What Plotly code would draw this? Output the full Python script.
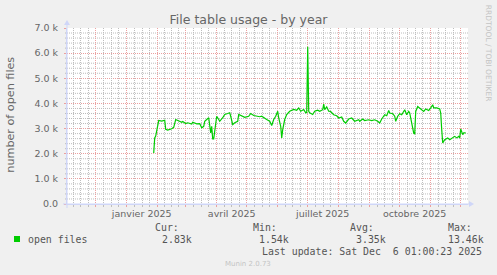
import plotly.graph_objects as go
import pandas as pd

# ---------------- data ----------------
dates = [
    "2025-01-28", "2025-01-29", "2025-01-30", "2025-02-02", "2025-02-05", "2025-02-08",
    "2025-02-09", "2025-02-11", "2025-02-15", "2025-02-17", "2025-02-19", "2025-02-21",
    "2025-02-25", "2025-02-26", "2025-03-01", "2025-03-03", "2025-03-07", "2025-03-08",
    "2025-03-12", "2025-03-15", "2025-03-17", "2025-03-19", "2025-03-20", "2025-03-24",
    "2025-03-25", "2025-03-26", "2025-03-27", "2025-03-28", "2025-03-29", "2025-04-01",
    "2025-04-03", "2025-04-04", "2025-04-07", "2025-04-09", "2025-04-12", "2025-04-14",
    "2025-04-15", "2025-04-17", "2025-04-19", "2025-04-22", "2025-04-23", "2025-04-26",
    "2025-04-29", "2025-05-03", "2025-05-05", "2025-05-08", "2025-05-11", "2025-05-14",
    "2025-05-16", "2025-05-19", "2025-05-21", "2025-05-24", "2025-05-26", "2025-05-28",
    "2025-05-30", "2025-06-01", "2025-06-02", "2025-06-04", "2025-06-05", "2025-06-06",
    "2025-06-08", "2025-06-10", "2025-06-13", "2025-06-17", "2025-06-20", "2025-06-22",
    "2025-06-24", "2025-06-27", "2025-06-29", "2025-06-30", "2025-07-01", "2025-07-02",
    "2025-07-03", "2025-07-06", "2025-07-08", "2025-07-11", "2025-07-13", "2025-07-16",
    "2025-07-17", "2025-07-18", "2025-07-20", "2025-07-22", "2025-07-24", "2025-07-27",
    "2025-07-30", "2025-08-01", "2025-08-04", "2025-08-06", "2025-08-08", "2025-08-11",
    "2025-08-14", "2025-08-17", "2025-08-21", "2025-08-22", "2025-08-25", "2025-08-27",
    "2025-08-31", "2025-09-03", "2025-09-06", "2025-09-09", "2025-09-11", "2025-09-13",
    "2025-09-16", "2025-09-18", "2025-09-20", "2025-09-21", "2025-09-24", "2025-09-26",
    "2025-09-27", "2025-09-29", "2025-10-01", "2025-10-03", "2025-10-05", "2025-10-06",
    "2025-10-08", "2025-10-10", "2025-10-11", "2025-10-13", "2025-10-15", "2025-10-16",
    "2025-10-17", "2025-10-19", "2025-10-21", "2025-10-23", "2025-10-25", "2025-10-27",
    "2025-10-30", "2025-11-01", "2025-11-03", "2025-11-04", "2025-11-07", "2025-11-10",
    "2025-11-11", "2025-11-12", "2025-11-13", "2025-11-15", "2025-11-18", "2025-11-20",
    "2025-11-23", "2025-11-25", "2025-11-27", "2025-11-29", "2025-11-30", "2025-12-01",
    "2025-12-03", "2025-12-04", "2025-12-06",
]
open_files = [
    2030, 2630, 2700, 3320, 3300, 3330,
    2970, 2940, 2990, 3050, 3360, 3320,
    3250, 3280, 3200, 3230, 3180, 3250,
    3190, 3200, 3030, 3090, 3290, 3430,
    3160, 2830, 3090, 2590, 2590, 3490,
    3360, 3290, 3430, 3560, 3600, 3630,
    3490, 3160, 3230, 3290, 3560, 3490,
    3450, 3490, 3600, 3520, 3490, 3470,
    3490, 3390, 3360, 3290, 3120, 3360,
    3490, 3690, 3420, 3090, 2630, 2960,
    3360, 3560, 3690, 3760, 3730, 3820,
    3690, 3760, 3630, 3640, 6250, 3690,
    3630, 3560, 3690, 3730, 3690, 3750,
    3970, 3750, 3860, 3690, 3680, 3550,
    3510, 3420, 3460, 3290, 3220, 3380,
    3420, 3290, 3350, 3290, 3380, 3320,
    3350, 3320, 3350, 3290, 3220, 3380,
    3550, 3510, 3720, 3620, 3590, 3490,
    3290, 3490, 3590, 3550, 3680, 3750,
    3550, 3680, 3620, 3190, 2820, 2780,
    3680, 3880, 3810, 3720, 3680, 3780,
    3720, 3820, 3950, 3820, 3820, 3780,
    3620, 2960, 2430, 2560, 2630, 2560,
    2630, 2690, 2630, 2690, 2630, 2980,
    2760, 2830, 2830,
]

series_name = "open files"
label_dates = ["2025-01-16", "2025-04-16", "2025-07-16", "2025-10-16"]
label_texts = ["janvier 2025", "avril 2025", "juillet 2025", "octobre 2025"]
y_tick_raw = ["0", "1000", "2000", "3000", "4000", "5000", "6000", "7000"]
y_tick_text = ["0.0", "1.0 k", "2.0 k", "3.0 k", "4.0 k", "5.0 k", "6.0 k", "7.0 k"]
stat_labels = ["Cur:", "Min:", "Avg:", "Max:"]
stat_values = ["2.83k", "1.54k", "3.35k", "13.46k"]
last_update = "Last update: Sat Dec  6 01:00:23 2025"
title_text = "File table usage - by year"
y_title = "number of open files"
watermark = "Munin 2.0.73"
side_text = "RRDTOOL / TOBI OETIKER"

# ---------------- geometry / style ----------------
W, H = 497, 275
L, R, T, B = 67, 468, 28, 204
FONT = "DejaVu Sans"
MONO = "DejaVu Sans Mono"
FONTCOL = "#666666"
AXISCOL = "#CFD6F8"
MGRID = "#EBA0A0"
GRID = "#BDBDBD"
x_range = ["2024-11-02 07:00", "2025-12-08 07:00"]
y_range = [0, 7000]


def px(xp):
    return (xp - L) / (R - L)


def py(yp):
    return (B - yp) / (B - T)


month_starts = pd.date_range("2024-11-01", "2025-12-01", freq="MS")
minor_x = []
for d in month_starts:
    n = d.days_in_month
    for k in (1, 2, 3):
        minor_x.append((d + pd.Timedelta(days=k * n / 4)).strftime("%Y-%m-%d %H:%M"))
minor_y = [v for v in range(200, 7000, 200) if v % 1000]

fig = go.Figure()
# invisible carrier trace for the minor-grid x axis
fig.add_trace(go.Scatter(
    x=x_range, y=[None, None], xaxis="x3", yaxis="y",
    mode="lines", showlegend=False, hoverinfo="skip",
))
# invisible carrier trace for the month label axis
fig.add_trace(go.Scatter(
    x=label_dates, y=[None] * len(label_dates), xaxis="x2", yaxis="y",
    mode="lines", showlegend=False, hoverinfo="skip",
))
fig.add_trace(go.Scatter(
    x=dates, y=open_files, mode="lines", name=series_name,
    line=dict(color="#00CC00", width=1.2), showlegend=False,
))

grid_common = dict(griddash="1px,1px", gridwidth=1, zeroline=False, fixedrange=True)

fig.update_layout(
    width=W, height=H,
    margin=dict(l=L, r=W - R, t=T, b=H - B),
    paper_bgcolor="#F0F0F0", plot_bgcolor="#FFFFFF",
    font=dict(family=FONT, color=FONTCOL, size=9.5),
    title=dict(text=title_text, x=248.5 / W, xref="container", xanchor="center",
               y=1 - 20 / H, yref="container", yanchor="middle",
               font=dict(family=FONT, size=12.5, color=FONTCOL)),
    xaxis=dict(
        range=x_range, type="date",
        tickmode="linear", tick0="2024-12-01", dtick="M1", showticklabels=False,
        showgrid=True, gridcolor=MGRID,
        ticks="outside", ticklen=2, tickcolor=MGRID,
        showline=True, linecolor=AXISCOL, linewidth=1, **grid_common,
    ),
    xaxis2=dict(
        range=x_range, type="date", overlaying="x", anchor="y", side="bottom",
        tickmode="array", tickvals=label_dates, ticktext=label_texts,
        showgrid=False, ticks="", showline=False, zeroline=False, fixedrange=True,
        ticklabelstandoff=2,
        tickfont=dict(family=FONT, size=9.5, color=FONTCOL),
    ),
    xaxis3=dict(
        range=x_range, type="date", overlaying="x", anchor="y", side="bottom",
        tickmode="array", tickvals=minor_x, showticklabels=False,
        showgrid=True, gridcolor=GRID, ticks="outside", ticklen=2, tickcolor=GRID,
        showline=False, **grid_common,
    ),
    yaxis=dict(
        range=y_range, tickmode="linear", tick0=0, dtick=1000, tickformat="d",
        labelalias=dict(zip(y_tick_raw, y_tick_text)),
        showgrid=True, gridcolor=MGRID,
        ticks="outside", ticklen=2, tickcolor=MGRID,
        showline=True, linecolor=AXISCOL, linewidth=1,
        ticklabelstandoff=4,
        tickfont=dict(family=FONT, size=9.5, color=FONTCOL), **grid_common,
    ),
)

ann = []
# y axis title
ann.append(dict(text=y_title, x=px(11), y=py(114.7), xref="paper", yref="paper",
                textangle=-90, showarrow=False, xanchor="center", yanchor="middle",
                font=dict(family=FONT, size=11.2, color=FONTCOL)))
# side watermark
ann.append(dict(text=side_text, x=px(488.5), y=py(53.3), xref="paper", yref="paper",
                textangle=90, showarrow=False, xanchor="center", yanchor="middle",
                font=dict(family=FONT, size=7.5, color="#C4C4C4")))
# munin watermark
ann.append(dict(text=watermark, x=px(248), y=py(264), xref="paper", yref="paper",
                showarrow=False, xanchor="center", yanchor="middle",
                font=dict(family=FONT, size=7, color="#C4C4C4")))
# legend
mono = dict(family=MONO, size=9.9, color="#555555")
ann.append(dict(text=series_name, x=px(26.5), y=py(239.3), xref="paper", yref="paper",
                showarrow=False, xanchor="left", yanchor="middle", borderpad=0, font=mono))
head_x = [154.3, 251.7, 349.3, 446.7]
val_x = [160.7, 258.3, 355.0, 447.3]
for hx, vx, lab, val in zip(head_x, val_x, stat_labels, stat_values):
    ann.append(dict(text=lab, x=px(hx), y=py(227.7), xref="paper", yref="paper",
                    showarrow=False, xanchor="left", yanchor="middle", borderpad=0, font=mono))
    ann.append(dict(text=val, x=px(vx), y=py(239.3), xref="paper", yref="paper",
                    showarrow=False, xanchor="left", yanchor="middle", borderpad=0, font=mono))
ann.append(dict(text=last_update.replace(" ", "&nbsp;"), x=px(482.7), y=py(251), xref="paper",
                yref="paper", showarrow=False, xanchor="right", yanchor="middle",
                borderpad=0, font=mono))
fig.update_layout(annotations=ann)

shapes = []
# minor horizontal grid (dotted grey), below the data
for v in minor_y:
    shapes.append(dict(type="line", xref="paper", yref="y", x0=0, x1=1, y0=v, y1=v,
                       layer="below", line=dict(color=GRID, width=1, dash="1px,1px")))
    shapes.append(dict(type="line", xref="paper", yref="y", x0=px(65), x1=0, y0=v, y1=v,
                       layer="below", line=dict(color=GRID, width=1)))
shapes += [
    # legend colour box
    dict(type="rect", xref="paper", yref="paper", x0=px(14), x1=px(20), y0=py(242), y1=py(236),
         fillcolor="#00CC00", line=dict(width=0)),
    # axis extensions and arrows
    dict(type="line", xref="paper", yref="paper", x0=px(63), x1=px(470), y0=py(204), y1=py(204),
         line=dict(color=AXISCOL, width=1)),
    dict(type="path", xref="paper", yref="paper",
         path=f"M {px(469)} {py(201)} L {px(474)} {py(204)} L {px(469)} {py(207)} Z",
         fillcolor=AXISCOL, line=dict(width=0)),
    dict(type="line", xref="paper", yref="paper", x0=px(67), x1=px(67), y0=py(208), y1=py(24),
         line=dict(color=AXISCOL, width=1)),
    dict(type="path", xref="paper", yref="paper",
         path=f"M {px(64)} {py(25)} L {px(67)} {py(20)} L {px(70)} {py(25)} Z",
         fillcolor=AXISCOL, line=dict(width=0)),
]
fig.update_layout(shapes=shapes)

fig.write_html("out.html")
